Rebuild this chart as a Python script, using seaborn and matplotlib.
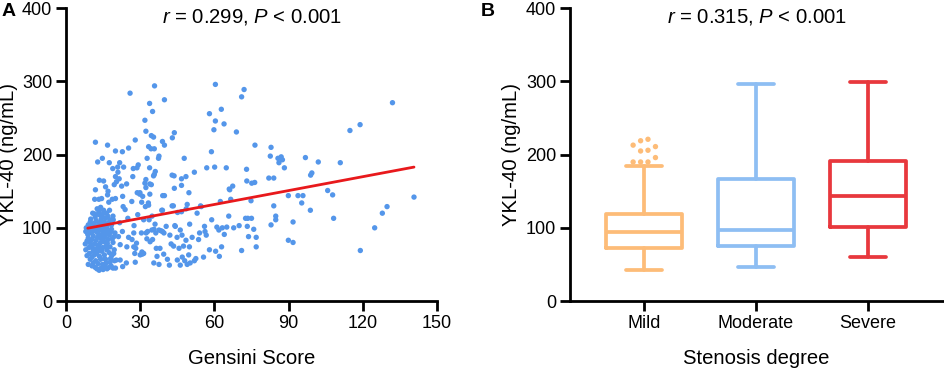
import matplotlib
matplotlib.use("Agg")
import matplotlib.pyplot as plt
import seaborn as sns
import numpy as np

# ---------------- Data ----------------
pts_top = [(25.9,284),(35.8,294),(39.8,275),(33.8,270),(35,259),(31.9,247),(32.3,232),(34.5,226),(35.4,224),(28,220),
           (39,218),(39.8,213),(43,223),(43.8,230),(11.9,217),(16.8,213),(20,205),(22.8,204),(25.3,209),(33.4,211),
           (34.4,208),(35.7,208),(37.6,198),(37.4,195),(60.4,296),(72,289),(71,279),(62.8,262),(58,256),(60.4,246),
           (63.9,242),(59.8,234),(68.9,231),(76.4,213),(82.9,210),(58.8,204),(132,271),(118.9,241),(114.8,233)]
pts_150_200 = [(14.7,195),(12.8,190),(17.5,189),(21.7,189),(20.9,183),(23.3,183),(27.2,181),(28.7,182),(21,176),(20,170),
               (20.4,163),(19.5,159),(21.5,167),(15.2,164),(16,156),(11.9,152),(32.8,195),(33.8,182),(36.1,177),(32.3,166),
               (35.4,171),(34.5,159),(32.3,155),(35.7,173),(42.9,172),(43.7,171),(47.8,195),(46.7,167),(48.5,170),(43.8,154),
               (51.9,176),(49.7,148),(56.9,182),(60.1,183),(64.8,182),(73,180),(73.1,164),(75.1,161),(76.3,162),(66,153),
               (67.4,157),(82,168),(84,168),(82.6,198),(87,197),(87.5,193),(85.7,195),(86.1,189),(88.3,182),(96.8,196),
               (102,190),(110.9,189),(99.4,175),(98.9,172),(29.2,186),(18.9,181),(27,170),(24.5,160),(13.5,165),(17,150),
               (22.5,157),(29.9,148),(31.9,161),(33.9,160),(46.7,158)]
pts_100_150 = [(11.6,139),(13.3,139),(14.4,140),(16.8,145),(17.3,135),(18.7,139),(20,140),(22.9,143),(23.9,125),(23.1,129),
               (11.6,119),(13.3,122),(15.2,120),(16.9,116),(19.1,111),(21.7,107),(26.6,136),(28.8,148),(29.8,146),(31,143),
               (32.1,129),(33.4,131),(34.8,116),(31.4,111),(33.6,111),(39.1,144),(39.8,144),(39,124),(42.9,130),(45.1,121),
               (48.6,126),(53,120),(54.7,129),(58.9,111),(62.4,136),(66.2,152),(66.6,139),(65.8,116),(74.8,137),(84,130),
               (84.8,116),(84.8,111),(89.9,144),(93.8,144),(95.8,144),(95.3,134),(98.8,124),(105.8,151),(107.8,145),(108.2,113),
               (129.8,129),(127.9,120),(140.7,142),(91.8,108),(33.9,146),(30.6,135),(33.3,134),(43.4,130),(49,132),(54.4,130),
               (38.7,124),(46.7,122),(25,113),(27.5,103),(29,118),(36,105),(40.5,102),(44,103),(50,105),(56,102),
               (61,101),(70,103),(73.5,113),(75,113),(72.6,113)]
pts_50_100 = [(71,69),(73.3,102),(73.8,88),(75.9,98),(76.9,87),(76.9,74),(82.9,104),(89.9,83),(91.8,80),(119,69),
              (124.8,100),(60.5,68),(62,61),(62.9,74),(61.8,97),(63.2,100),(64,91),(67.8,100),(56.2,95),(56.7,90),
              (54,93),(53.6,84),(55.6,60),(51.9,55),(50.2,52),(49.6,63),(49.9,74),(48.5,83),(46.9,90),(46.2,97),
              (44.2,102),(44.9,87),(43.5,75),(45.7,72),(47,60),(45,56),(46.2,49),(41.8,49),(37.6,50),(36.8,61),
              (39.5,64),(36.5,72),(38,72),(35,84),(36.3,93),(37.6,97),(39,95),(39.6,93),(34.7,97),(32.4,93),
              (32.7,85),(31.4,65),(30.7,67),(30.5,93),(27.4,74),(28.2,72),(28.5,79),(26.7,84),(27.4,93),(25.3,87),
              (24.6,74),(24.4,52),(28,53),(27.8,65),(22.9,47),(20,45),(21.9,56),(20.3,56),(19.3,65),(21.9,77),
              (21.2,88),(22.8,95),(48,55),(49,50),(52.5,58),(42,90),(42.5,78),(47.5,75),(51,87),(58,70),
              (65,101),(35.5,52),(30,63),(30.8,64),(33,95),(35.6,98),(38.4,96),(34,81),(41,57)]
pts_cluster = [(9,50),(10.5,48),(11.8,46),(12.5,44),(13.4,42),(14.2,45),(15,43),(15.8,47),(16.6,44),(17.4,46),
               (18.2,48),(19,45),(11,52),(13,51),(14.8,50),(16.2,52),(17.8,53),(19.6,55),(12,55),(9.8,57),
               (14,57),(16,57),(18,58),(8.5,62),(9.5,65),(10.5,60),(11.5,63),(12.5,66),(13.5,61),(14.5,68),
               (15.5,63),(16.5,70),(17.5,66),(18.5,62),(19.5,70),(8,70),(9.2,73),(10.8,72),(12,71),(13.2,74),
               (14.8,73),(16.2,75),(17.8,74),(11,68),(13.8,69),(15.6,58),(7.8,78),(8.5,82),(9,86),(9.8,80),
               (10.5,84),(11,89),(11.6,78),(12.2,83),(12.8,87),(13.3,91),(13.8,79),(14.2,85),(14.6,89),(15,93),
               (15.3,81),(15.7,87),(16.1,92),(16.5,96),(17,84),(17.5,90),(18,94),(18.4,98),(19,80),(19.4,88),
               (19.8,93),(8,95),(8.8,91),(9.6,97),(10.3,93),(11.2,96),(12,99),(12.6,94),(13.5,97),(14,100),
               (14.8,96),(15.5,99),(16.2,100),(17.2,97),(10,76),(13,76),(16.7,79),(18.7,85),(8.2,100),(9,104),
               (9.8,108),(10.6,102),(11.4,106),(12.2,110),(13,103),(13.6,107),(14.2,112),(14.8,104),(15.4,108),(16,113),
               (16.6,103),(17.2,107),(17.8,111),(18.4,104),(19,116),(10,112),(11.8,115),(13.4,118),(14.6,116),(15.2,124),
               (16.4,120),(12.6,126),(17.6,124),(10.8,120),(14,128)]

all_pts = pts_top + pts_150_200 + pts_100_150 + pts_50_100 + pts_cluster
gensini = [p[0] for p in all_pts]
ykl_a = [p[1] for p in all_pts]

# fitted regression line (endpoints)
fit_x = [8.8, 140.7]
fit_y = [99.5, 183.0]

# panel B box statistics
groups = ["Mild", "Moderate", "Severe"]
whis_low = [42, 47, 60]
q1 = [73, 75, 101]
median = [94, 97.5, 143]
q3 = [119, 167, 191]
whis_high = [185, 296, 299]
mild_fliers = [190, 190, 190, 196, 205, 206, 211, 213, 219, 221]
mild_flier_x = [-0.10, -0.033, 0.033, 0.10, -0.033, 0.033, 0.10, -0.10, -0.033, 0.033]
box_colors = ["#FDBC78", "#8EBEF3", "#E8383D"]

title_a = "$r$ = 0.299, $P$ < 0.001"
title_b = "$r$ = 0.315, $P$ < 0.001"

# ---------------- Style ----------------
sns.set_theme(style="ticks")
plt.rcParams["font.family"] = ["Liberation Sans", "DejaVu Sans"]
plt.rcParams["mathtext.fontset"] = "custom"
plt.rcParams["mathtext.rm"] = "Liberation Sans"
plt.rcParams["mathtext.it"] = "Liberation Sans:italic"

W, H = 945, 369
fig = plt.figure(figsize=(W / 100, H / 100), dpi=100)
axA = fig.add_axes([66 / W, 68 / H, 371 / W, 292.7 / H])
axB = fig.add_axes([570 / W, 68 / H, 373 / W, 292.7 / H])

TICK_FS = 13
LAB_FS = 14.6

# ---------------- Panel A ----------------
sns.scatterplot(x=gensini, y=ykl_a, ax=axA, s=15, color="#5496EA", edgecolor="none", linewidth=0, zorder=2)
sns.lineplot(x=fit_x, y=fit_y, ax=axA, color="#E8191C", linewidth=2, zorder=3)
axA.set_xlim(0, 150)
axA.set_ylim(0, 400)
axA.set_xticks([0, 30, 60, 90, 120, 150])
axA.set_yticks([0, 100, 200, 300, 400])
axA.set_xlabel("Gensini Score", fontsize=LAB_FS)
axA.set_ylabel("YKL-40 (ng/mL)", fontsize=LAB_FS)

# ---------------- Panel B ----------------
stats = []
for i, g in enumerate(groups):
    stats.append(dict(label=g, whislo=whis_low[i], q1=q1[i], med=median[i], q3=q3[i],
                      whishi=whis_high[i], fliers=[]))
res = axB.bxp(stats, positions=[0, 1, 2], widths=0.68, capwidths=0.32, showfliers=False,
              boxprops=dict(linewidth=2.7), medianprops=dict(linewidth=2.7),
              whiskerprops=dict(linewidth=2.7), capprops=dict(linewidth=2.7))
for i, c in enumerate(box_colors):
    res["boxes"][i].set_color(c)
    res["medians"][i].set_color(c)
    for art in res["whiskers"][2 * i:2 * i + 2] + res["caps"][2 * i:2 * i + 2]:
        art.set_color(c)
sns.scatterplot(x=mild_flier_x, y=mild_fliers, ax=axB, s=15, color=box_colors[0],
                edgecolor="none", linewidth=0, zorder=3)
axB.set_xlim(-0.665, 2.674)
axB.set_ylim(0, 400)
axB.set_xticks([0, 1, 2])
axB.set_xticklabels(groups)
axB.set_yticks([0, 100, 200, 300, 400])
axB.set_xlabel("Stenosis degree", fontsize=LAB_FS)
axB.set_ylabel("YKL-40 (ng/mL)", fontsize=LAB_FS)

for ax in (axA, axB):
    sns.despine(ax=ax)
    for s in ("left", "bottom"):
        ax.spines[s].set_linewidth(2)
        ax.spines[s].set_color("black")
    ax.tick_params(axis="both", length=7, width=2, color="black", labelsize=TICK_FS, pad=3,
                   labelcolor="black")
    ax.xaxis.set_label_coords(0.5, -0.165)
    ax.xaxis.label.set_color("black")
    ax.yaxis.label.set_color("black")
axA.yaxis.set_label_coords(-0.129, 0.5)
axB.yaxis.set_label_coords(-0.131, 0.5)

fig.text(251.5 / W, 1 - 17 / H, title_a, ha="center", va="center", fontsize=LAB_FS, color="black")
fig.text(756.5 / W, 1 - 17 / H, title_b, ha="center", va="center", fontsize=LAB_FS, color="black")
fig.text(2 / W, 1 - 3 / H, "A", ha="left", va="top", fontsize=14, fontweight="bold", color="black")
fig.text(481 / W, 1 - 3 / H, "B", ha="left", va="top", fontsize=14, fontweight="bold", color="black")

fig.savefig("out.png", dpi=100)
